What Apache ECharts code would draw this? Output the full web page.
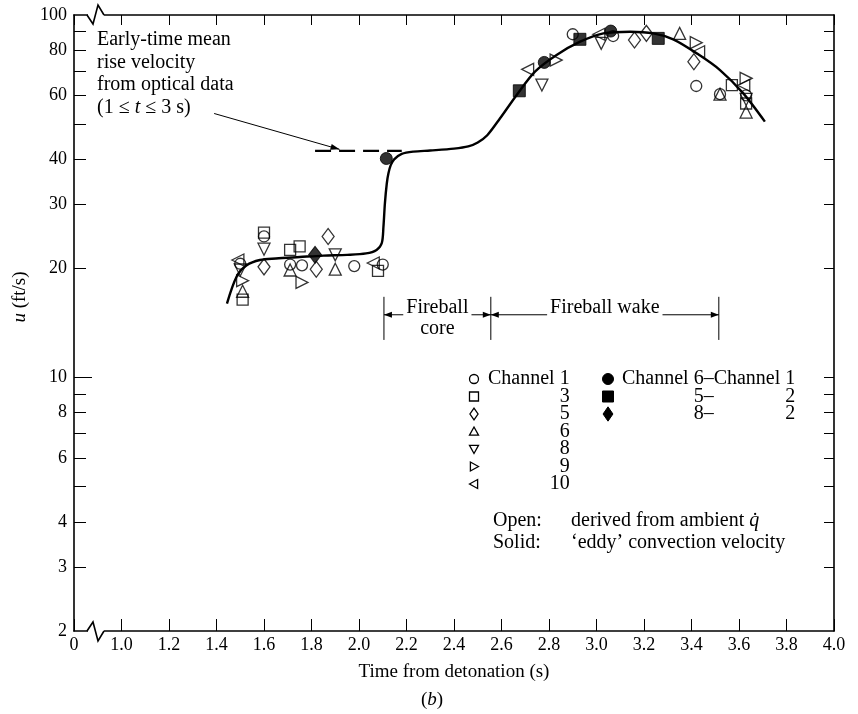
<!DOCTYPE html>
<html>
<head>
<meta charset="utf-8">
<script src="https://cdn.jsdelivr.net/npm/echarts@6/dist/echarts.min.js"></script>
<style>
  html, body { margin: 0; padding: 0; background: #fff; }
  #chart { width: 858px; height: 714px; }
</style>
</head>
<body>
<div id="chart"></div>
<script>
// ---- axes -------------------------------------------------------------
// 0.8 s is the broken origin of the time axis and is labelled "0"
const timeMin = 0.8, timeMax = 4.0, timeStep = 0.2;
const speedLabels = [2, 3, 4, 6, 8, 10, 20, 30, 40, 60, 80, 100];
const speedTicks = [3, 4, 5, 6, 7, 8, 9, 10, 20, 30, 40, 50, 60, 70, 80, 90];
const speedMajorTick = [10];

// ---- open symbols: derived from ambient q-dot (t in s, u in ft/s) -----
const ch1T = [1.50, 1.60, 1.71, 1.76, 1.98, 2.10, 2.90, 3.07, 3.42, 3.52, 3.63];
const ch1U = [20.6, 24.5, 20.5, 20.4, 20.3, 20.5, 88.5, 87.5, 63.7, 60.5, 60.0];
const ch3T = [1.51, 1.60, 1.71, 1.75, 2.08, 3.57, 3.63];
const ch3U = [16.4, 25.1, 22.5, 23.0, 19.7, 64.1, 57.0];
const ch5T = [1.60, 1.82, 1.87, 3.16, 3.21, 3.41];
const ch5U = [20.2, 19.9, 24.5, 85.3, 89.0, 74.3];
const ch6T = [1.51, 1.71, 1.90, 3.35, 3.52, 3.63];
const ch6U = [17.3, 19.8, 19.9, 89.0, 60.5, 54.0];
const ch8T = [1.50, 1.60, 1.90, 2.77, 3.02, 3.63];
const ch8U = [19.8, 22.6, 21.8, 64.1, 83.5, 58.5];
const ch9T = [1.51, 1.76, 2.83, 3.42, 3.63];
const ch9U = [18.5, 18.3, 75.1, 83.9, 66.9];
const ch10T = [1.49, 2.06, 2.71, 3.01, 3.43, 3.62];
const ch10U = [21.1, 20.7, 70.8, 88.5, 79.2, 64.0];

// ---- solid symbols: 'eddy' convection velocity ------------------------
const eddy61T = [2.115, 2.78, 3.06];
const eddy61U = [40.2, 74.0, 90.3];
const eddy52T = [2.675, 2.93, 3.26];
const eddy52U = [61.8, 85.7, 86.2];
const eddy82T = [1.815];
const eddy82U = [21.8];

// ---- faired curve through the data ------------------------------------
const fitT = [1.444, 1.485, 1.527, 1.583, 1.65, 1.75, 1.85, 1.95, 2.03, 2.074, 2.096,
              2.103, 2.109, 2.117, 2.124, 2.134, 2.148, 2.18, 2.229, 2.30, 2.40, 2.46, 2.50,
              2.54, 2.594, 2.664, 2.741, 2.832, 2.931, 3.029, 3.141, 3.239, 3.323,
              3.422, 3.52, 3.618, 3.709];
const fitU = [16.0, 19.0, 20.4, 21.1, 21.3, 21.5, 21.7, 21.8, 22.0, 22.5, 23.5,
              26.1, 30.2, 34.3, 36.6, 38.6, 40.0, 41.4, 42.0, 42.3, 42.8, 43.4, 44.5,
              46.6, 51.9, 60.2, 69.8, 77.6, 84.4, 89.0, 89.9, 89.0, 85.7,
              78.4, 70.5, 60.8, 50.8];

// ---- early-time optical mean rise velocity (1 <= t <= 3 s) ------------
const opticalT = [1.815, 2.18];
const opticalU = [42.2, 42.2];
const pointerT = [1.39, 1.918];
const pointerU = [53.5, 42.6];

// ---- fireball core / wake intervals -----------------------------------
const regionEdges = [2.105, 2.555, 3.515];
const regionNames = ['Fireball', 'Fireball wake'];
const regionSub = 'core';

const SERIF = '"Liberation Serif", "Times New Roman", serif';
const FS = 20;
const pairs = (t, u) => t.map((x, i) => [x, u[i]]);

const openChannels = [
  { name: 'Channel 1', t: ch1T, u: ch1U, symbol: 'circle', rot: 0, size: 11 },
  { name: 'Channel 3', t: ch3T, u: ch3U, symbol: 'rect', rot: 0, size: 11 },
  { name: 'Channel 5', t: ch5T, u: ch5U, symbol: 'diamond', rot: 0, size: [12, 16] },
  { name: 'Channel 6', t: ch6T, u: ch6U, symbol: 'triangle', rot: 0, size: 12 },
  { name: 'Channel 8', t: ch8T, u: ch8U, symbol: 'triangle', rot: 180, size: 12 },
  { name: 'Channel 9', t: ch9T, u: ch9U, symbol: 'triangle', rot: -90, size: 12 },
  { name: 'Channel 10', t: ch10T, u: ch10U, symbol: 'triangle', rot: 90, size: 12 }
];
const solidChannels = [
  { name: 'Channel 6-1', t: eddy61T, u: eddy61U, symbol: 'circle', size: 12 },
  { name: 'Channel 5-2', t: eddy52T, u: eddy52U, symbol: 'rect', size: 12 },
  { name: 'Channel 8-2', t: eddy82T, u: eddy82U, symbol: 'diamond', size: [13, 17] }
];

const axisLine = { show: true, lineStyle: { color: '#000', width: 1.6 } };
const tickLabelStyle = { color: '#000', fontFamily: SERIF, fontSize: 18 };

const series = [
  {
    type: 'line', name: 'fit', data: pairs(fitT, fitU), showSymbol: false, symbol: 'none',
    smooth: 0.3,
    lineStyle: { color: '#000', width: 2.4 }, z: 2, silent: true
  },
  {
    type: 'line', name: 'optical', data: pairs(opticalT, opticalU), showSymbol: false, symbol: 'none',
    lineStyle: { color: '#000', width: 2.4, type: [16, 8] }, z: 2, silent: true
  }
];
openChannels.forEach(c => series.push({
  type: 'scatter', name: c.name, data: pairs(c.t, c.u), symbol: c.symbol,
  symbolRotate: c.rot, symbolSize: c.size, z: 3,
  itemStyle: { color: 'rgba(0,0,0,0)', borderColor: '#000', borderWidth: 1.3 }
}));
solidChannels.forEach(c => series.push({
  type: 'scatter', name: c.name, data: pairs(c.t, c.u), symbol: c.symbol,
  symbolSize: c.size, z: 4,
  itemStyle: { color: '#000', borderColor: '#000', borderWidth: 1 }
}));

const chart = echarts.init(document.getElementById('chart'), null, { renderer: 'canvas' });

chart.setOption({
  animation: false,
  backgroundColor: '#fff',
  grid: { left: 74, right: 24, top: 15, bottom: 83, outerBoundsMode: 'none', containLabel: false },
  xAxis: [
    {
      type: 'value', position: 'bottom', min: timeMin, max: timeMax, interval: timeStep,
      axisLine, splitLine: { show: false },
      axisTick: { show: true, inside: true, length: 12, lineStyle: { color: '#000', width: 1 } },
      axisLabel: {
        ...tickLabelStyle, margin: 5,
        formatter: v => (Math.abs(v - timeMin) < 1e-9 ? '0' : v.toFixed(1))
      },
      name: 'Time from detonation (s)', nameLocation: 'middle', nameGap: 32,
      nameTextStyle: { color: '#000', fontFamily: SERIF, fontSize: 19 }
    },
    {
      type: 'value', position: 'top', min: timeMin, max: timeMax, interval: timeStep,
      axisLine, splitLine: { show: false },
      axisTick: { show: true, inside: true, length: 10, lineStyle: { color: '#000', width: 1 } },
      axisLabel: { show: false }
    }
  ],
  yAxis: [
    {
      type: 'log', logBase: 10, min: 2, max: 100, position: 'left',
      axisLine, splitLine: { show: false }, minorTick: { show: false },
      axisTick: { show: true, inside: true, length: 12, customValues: speedTicks,
                  lineStyle: { color: '#000', width: 1 } },
      axisLabel: { ...tickLabelStyle, margin: 7, customValues: speedLabels, formatter: v => String(v) }
    },
    {
      type: 'log', logBase: 10, min: 2, max: 100, position: 'right',
      axisLine, splitLine: { show: false },
      axisTick: { show: true, inside: true, length: 10, customValues: speedTicks,
                  lineStyle: { color: '#000', width: 1 } },
      axisLabel: { show: false }
    },
    {
      type: 'log', logBase: 10, min: 2, max: 100, position: 'left',
      axisLine: { show: false }, splitLine: { show: false },
      axisTick: { show: true, inside: true, length: 18, customValues: speedMajorTick,
                  lineStyle: { color: '#000', width: 1 } },
      axisLabel: { show: false }
    }
  ],
  series
});

// ---- annotations, legend and axis breaks ------------------------------
const px = (t, u) => chart.convertToPixel({ xAxisIndex: 0, yAxisIndex: 0 }, [t, u]);
const measure = (() => {
  const ctx = document.createElement('canvas').getContext('2d');
  return (s, size) => { ctx.font = size + 'px ' + SERIF; return ctx.measureText(s).width; };
})();
const italic = { i: { fontStyle: 'italic', fontFamily: SERIF, fontSize: FS, fill: '#000' } };
const g = [];

function text(x, y, s, align, extra) {
  g.push({ type: 'text', x, y, silent: true,
           style: Object.assign({ fill: '#000', fontFamily: SERIF, fontSize: FS, text: s,
                                  align: align || 'left', verticalAlign: 'middle' }, extra || {}) });
}
function line(pts, w) {
  g.push({ type: 'polyline', silent: true, shape: { points: pts }, style: { stroke: '#000', lineWidth: w || 1, fill: null } });
}
function arrowHead(x, y, dir) {
  const L = 8, H = 3;
  const pts = dir > 0 ? [[x, y], [x - L, y - H], [x - L, y + H]] : [[x, y], [x + L, y - H], [x + L, y + H]];
  g.push({ type: 'polygon', silent: true, shape: { points: pts }, style: { fill: '#000' } });
}
function marker(type, x, y, s, filled) {
  const style = filled ? { fill: '#000', stroke: '#000', lineWidth: 1 } : { fill: 'none', stroke: '#000', lineWidth: 1.3 };
  const h = s / 2;
  let el;
  if (type === 'circle') el = { type: 'circle', shape: { cx: x, cy: y, r: h } };
  else if (type === 'square') el = { type: 'rect', shape: { x: x - h, y: y - h, width: s, height: s } };
  else {
    const P = {
      diamond: [[x, y - h * 1.3], [x + h * 0.9, y], [x, y + h * 1.3], [x - h * 0.9, y]],
      up: [[x, y - h], [x + h, y + h * 0.8], [x - h, y + h * 0.8]],
      down: [[x, y + h], [x + h, y - h * 0.8], [x - h, y - h * 0.8]],
      right: [[x + h, y], [x - h * 0.8, y - h], [x - h * 0.8, y + h]],
      left: [[x - h, y], [x + h * 0.8, y - h], [x + h * 0.8, y + h]]
    };
    el = { type: 'polygon', shape: { points: P[type] } };
  }
  el.style = style; el.silent = true;
  g.push(el);
}

// vertical axis title
g.push({ type: 'text', x: 20, y: 297, rotation: Math.PI / 2, silent: true,
  style: { text: '{i|u} (ft/s)', fill: '#000', fontFamily: SERIF, fontSize: 19, align: 'center', verticalAlign: 'middle',
           rich: { i: { fontStyle: 'italic', fontFamily: SERIF, fontSize: 19, fill: '#000' } } } });

// early-time note with its pointer to the dashed level
const noteLines = ['Early-time mean', 'rise velocity', 'from optical data'];
noteLines.forEach((s, i) => text(97, 40 + i * 22.5, s));
g.push({ type: 'text', x: 97, y: 107.5, silent: true,
  style: { text: '(1 \u2264 {i|t} \u2264 3 s)', fill: '#000', fontFamily: SERIF, fontSize: FS,
           verticalAlign: 'middle', rich: italic } });
const p0 = px(pointerT[0], pointerU[0]), p1 = px(pointerT[1], pointerU[1]);
line([p0, p1], 1);
{
  const ang = Math.atan2(p1[1] - p0[1], p1[0] - p0[0]);
  const L = 9, H = 3;
  const bx = p1[0] - L * Math.cos(ang), by = p1[1] - L * Math.sin(ang);
  g.push({ type: 'polygon', silent: true, style: { fill: '#000' }, shape: { points: [
    p1, [bx - H * Math.sin(ang), by + H * Math.cos(ang)], [bx + H * Math.sin(ang), by - H * Math.cos(ang)] ] } });
}

// fireball core / wake brackets
{
  const yTop = px(2, 16.7)[1], yBot = px(2, 12.7)[1], yArr = px(2, 14.9)[1];
  const yTxt = px(2, 15.6)[1], ySub = px(2, 13.6)[1];
  const xs = regionEdges.map(t => px(t, 10)[0]);
  xs.forEach(x => line([[x, yTop], [x, yBot]], 1));
  for (let k = 0; k < 2; k++) {
    const a = xs[k], b = xs[k + 1], c = (a + b) / 2;
    const w = measure(regionNames[k], FS);
    text(c, yTxt, regionNames[k], 'center');
    line([[a, yArr], [c - w / 2 - 3, yArr]], 1); arrowHead(a, yArr, -1);
    line([[c + w / 2 + 3, yArr], [b, yArr]], 1); arrowHead(b, yArr, 1);
  }
  text((xs[0] + xs[1]) / 2, ySub, regionSub, 'center');
}

// symbol key
{
  const col1 = 474, col2 = 608, rows = [379, 396.5, 414, 431.5, 449, 466.5, 484];
  const keys = ['circle', 'square', 'diamond', 'up', 'down', 'right', 'left'];
  const nums = ['Channel 1', '3', '5', '6', '8', '9', '10'];
  keys.forEach((k, i) => {
    marker(k, col1, rows[i], 9, false);
    if (i === 0) text(488, rows[i], nums[i]);
    else text(488 + measure('Channel 1', FS), rows[i], nums[i], 'right');
  });
  const solidKeys = ['circle', 'square', 'diamond'];
  const solidA = ['6', '5', '8'], solidB = ['1', '2', '2'];
  const head = 'Channel 6\u2013Channel 1';
  const xDash = 622 + measure('Channel 6\u2013', FS);
  const xEnd = 622 + measure(head, FS);
  solidKeys.forEach((k, i) => {
    marker(k, col2, rows[i], 11, true);
    if (i === 0) text(622, rows[i], head);
    else {
      text(xDash, rows[i], solidA[i] + '\u2013', 'right');
      text(xEnd, rows[i], solidB[i], 'right');
    }
  });
  text(493, 521, 'Open:');
  g.push({ type: 'text', x: 571, y: 521, silent: true,
    style: { text: 'derived from ambient {i|q\u0307}', fill: '#000', fontFamily: SERIF, fontSize: FS,
             verticalAlign: 'middle', rich: italic } });
  text(493, 543, 'Solid:');
  text(571, 543, '\u2018eddy\u2019 convection velocity');
}

// broken time axis between 0 and 1.0 s
{
  const left = px(timeMin, 2)[0];
  const yb = px(timeMin, 2)[1], yt = px(timeMin, 100)[1];
  [[yb, 1], [yt, -1]].forEach(([y, s]) => {
    g.push({ type: 'rect', silent: true, z: 10, shape: { x: left + 14, y: y - 2, width: 16, height: 4 }, style: { fill: '#fff' } });
    g.push({ type: 'polyline', silent: true, z: 11,
      shape: { points: [[left + 13, y], [left + 19, y - 9 * s], [left + 24, y + 10 * s], [left + 30, y]] },
      style: { stroke: '#000', lineWidth: 1.6, fill: null } });
  });
}

// panel tag
g.push({ type: 'text', x: 432, y: 700, silent: true,
  style: { text: '({i|b})', fill: '#000', fontFamily: SERIF, fontSize: 19, align: 'center', verticalAlign: 'middle',
           rich: { i: { fontStyle: 'italic', fontFamily: SERIF, fontSize: 19, fill: '#000' } } } });

chart.setOption({ graphic: g });
</script>
</body>
</html>
